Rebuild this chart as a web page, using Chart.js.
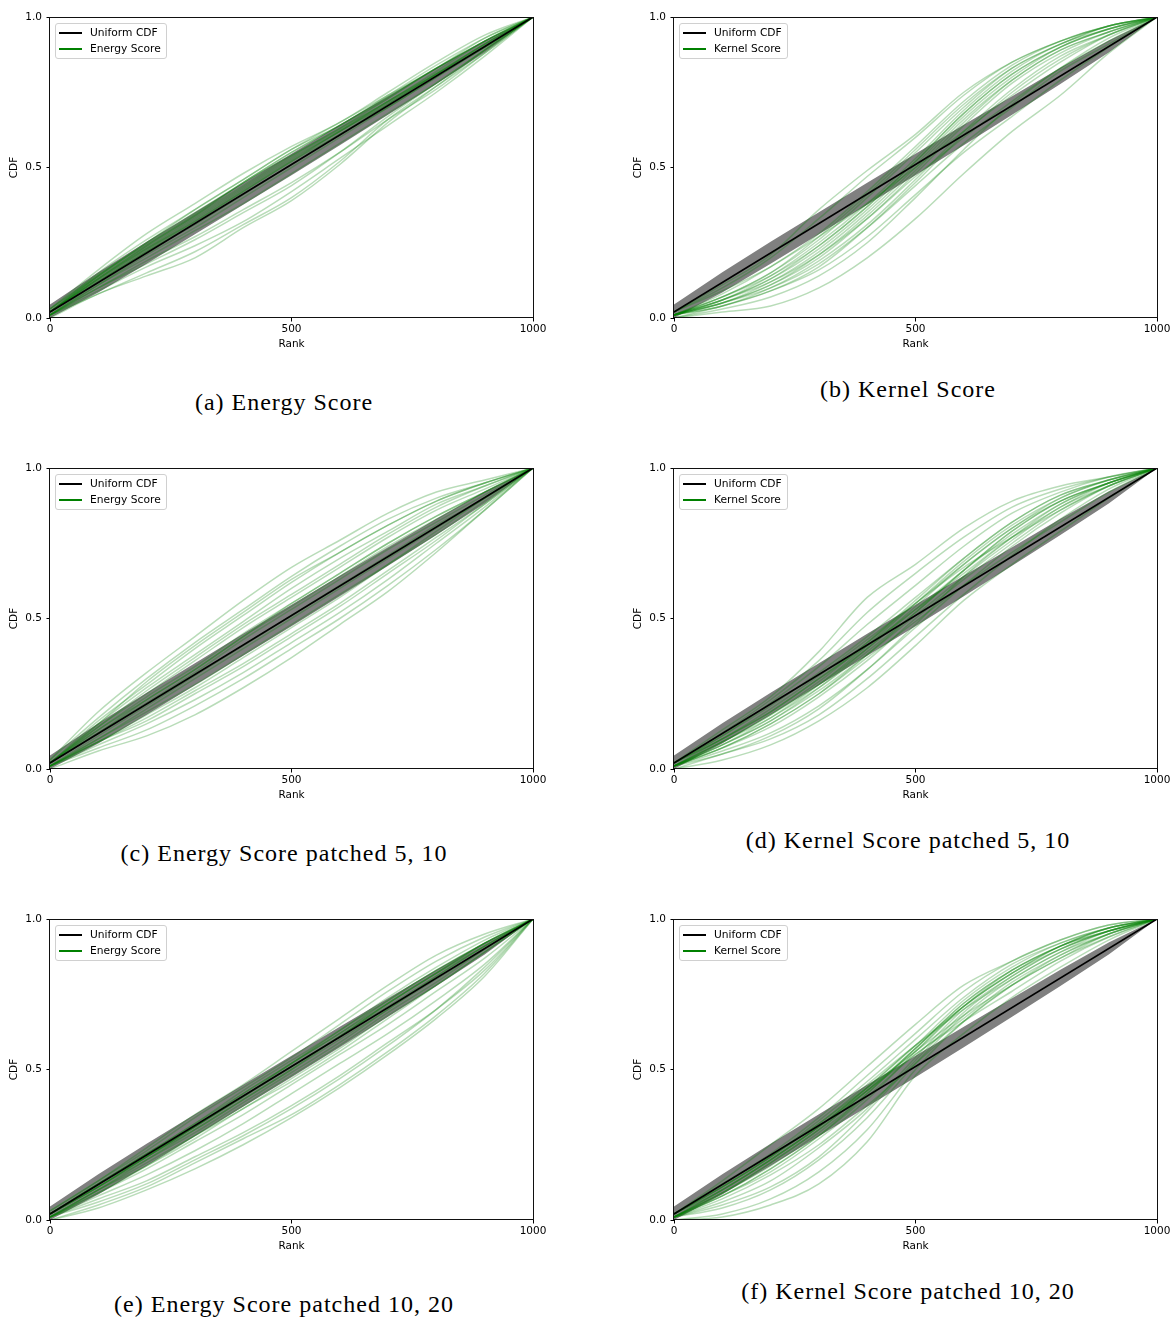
<!DOCTYPE html>
<html>
<head>
<meta charset="utf-8">
<script src="https://cdn.jsdelivr.net/npm/chart.js@4.4.0/dist/chart.umd.min.js"></script>
<style>
  html, body { margin: 0; padding: 0; background: #fff; }
  #page { position: relative; width: 1172px; height: 1317px; overflow: hidden; background: #fff; }
  canvas { position: absolute; }
  .legend { position: absolute; background: rgba(255,255,255,0.85); border: 1px solid #d0d0d0; border-radius: 3px;
            font-family: "DejaVu Sans", sans-serif; font-size: 10.7px; color: #000; padding: 1px 5px 1px 0; box-sizing: border-box; }
  .legend .row { position: relative; height: 16px; line-height: 16px; padding-left: 34px; white-space: nowrap; }
  .legend .row span.swatch { position: absolute; left: 3px; top: 7.5px; width: 23px; height: 1.6px; background: #000; }
  .caption { position: absolute; width: 600px; text-align: center; font-family: "Liberation Serif", "DejaVu Serif", serif;
             font-size: 24px; letter-spacing: 1px; line-height: 30px; color: #000; white-space: nowrap; }
</style>
</head>
<body>
<div id="page"></div>
<script>
// ---------------- DATA ----------------
const ranks = [0, 100, 200, 300, 400, 500, 600, 700, 800, 900, 1000];
const uniformRanks = [0, 1000];
const uniformCdf = [0.02, 1.0];
const bandLower = [0.000, 0.085, 0.180, 0.278, 0.376, 0.474, 0.574, 0.675, 0.777, 0.882, 1.0];
const bandUpper = [0.045, 0.152, 0.253, 0.351, 0.449, 0.546, 0.642, 0.737, 0.831, 0.922, 1.0];
const xTicks = [0, 500, 1000];
const yTicks = [0.0, 0.5, 1.0];

// (a) Energy Score
const energyScore = [
  [0.03,0.16,0.28,0.38,0.48,0.57,0.65,0.75,0.85,0.94,1],
  [0.02,0.15,0.26,0.36,0.46,0.56,0.64,0.74,0.84,0.93,1],
  [0.03,0.14,0.25,0.35,0.45,0.55,0.64,0.73,0.83,0.92,1],
  [0.02,0.14,0.24,0.34,0.44,0.54,0.63,0.72,0.82,0.92,1],
  [0.02,0.13,0.23,0.33,0.43,0.53,0.62,0.72,0.81,0.91,1],
  [0.02,0.13,0.23,0.32,0.42,0.52,0.62,0.71,0.81,0.91,1],
  [0.01,0.12,0.22,0.32,0.42,0.52,0.61,0.71,0.81,0.90,1],
  [0.02,0.12,0.22,0.31,0.41,0.51,0.61,0.70,0.80,0.90,1],
  [0.01,0.11,0.21,0.30,0.40,0.50,0.60,0.70,0.80,0.90,1],
  [0.01,0.11,0.20,0.29,0.38,0.48,0.58,0.68,0.78,0.89,1],
  [0.01,0.10,0.19,0.27,0.36,0.45,0.55,0.66,0.76,0.88,1],
  [0.01,0.09,0.17,0.24,0.32,0.42,0.53,0.64,0.75,0.87,1],
  [0.01,0.08,0.15,0.22,0.31,0.40,0.52,0.66,0.77,0.88,1],
  [0.00,0.08,0.14,0.20,0.30,0.39,0.51,0.65,0.77,0.89,1],
  [0.02,0.14,0.25,0.36,0.46,0.56,0.65,0.74,0.83,0.93,1],
  [0.02,0.13,0.24,0.34,0.45,0.54,0.63,0.73,0.83,0.92,1],
  [0.02,0.135,0.235,0.335,0.435,0.535,0.625,0.72,0.815,0.91,1],
  [0.03,0.145,0.245,0.345,0.45,0.55,0.64,0.735,0.83,0.92,1],
  [0.02,0.125,0.225,0.325,0.425,0.525,0.62,0.715,0.81,0.905,1],
  [0.01,0.10,0.18,0.26,0.35,0.44,0.55,0.67,0.78,0.89,1]
];
// (b) Kernel Score
const kernelScore = [
  [0.00,0.02,0.04,0.10,0.20,0.33,0.48,0.62,0.74,0.88,1],
  [0.00,0.03,0.07,0.14,0.25,0.40,0.56,0.71,0.83,0.93,1],
  [0.01,0.04,0.09,0.17,0.30,0.45,0.61,0.75,0.86,0.94,1],
  [0.01,0.05,0.11,0.20,0.33,0.48,0.64,0.78,0.88,0.95,1],
  [0.01,0.06,0.13,0.23,0.36,0.51,0.67,0.80,0.90,0.96,1],
  [0.01,0.07,0.15,0.26,0.40,0.55,0.70,0.83,0.91,0.97,1],
  [0.01,0.08,0.17,0.28,0.42,0.57,0.72,0.84,0.92,0.97,1],
  [0.02,0.10,0.20,0.33,0.47,0.60,0.74,0.85,0.92,0.97,1],
  [0.02,0.11,0.21,0.36,0.49,0.61,0.75,0.85,0.92,0.97,1],
  [0.01,0.06,0.12,0.21,0.33,0.47,0.60,0.72,0.83,0.92,1],
  [0.01,0.05,0.10,0.18,0.30,0.44,0.58,0.70,0.82,0.91,1],
  [0.00,0.04,0.09,0.16,0.27,0.41,0.55,0.67,0.79,0.90,1],
  [0.01,0.07,0.14,0.24,0.37,0.52,0.68,0.81,0.90,0.96,1],
  [0.01,0.05,0.12,0.22,0.35,0.50,0.66,0.79,0.89,0.95,1],
  [0.02,0.09,0.17,0.27,0.38,0.50,0.62,0.74,0.85,0.94,1],
  [0.01,0.06,0.14,0.25,0.38,0.53,0.69,0.82,0.91,0.96,1],
  [0.01,0.05,0.11,0.21,0.34,0.49,0.65,0.79,0.89,0.95,1],
  [0.01,0.06,0.13,0.24,0.37,0.52,0.68,0.81,0.90,0.96,1],
  [0.01,0.04,0.10,0.19,0.31,0.46,0.62,0.76,0.87,0.94,1],
  [0.01,0.07,0.15,0.27,0.41,0.56,0.71,0.83,0.91,0.97,1]
];
// (c) Energy Score patched 5, 10
const energyPatched5_10 = [
  [0.03,0.19,0.32,0.44,0.56,0.67,0.76,0.85,0.92,0.96,1],
  [0.03,0.17,0.30,0.42,0.53,0.64,0.74,0.83,0.90,0.95,1],
  [0.02,0.16,0.28,0.40,0.51,0.62,0.72,0.81,0.89,0.95,1],
  [0.02,0.15,0.27,0.38,0.49,0.60,0.70,0.79,0.88,0.94,1],
  [0.02,0.14,0.25,0.36,0.47,0.57,0.67,0.77,0.86,0.93,1],
  [0.02,0.13,0.24,0.34,0.45,0.55,0.65,0.75,0.84,0.92,1],
  [0.02,0.12,0.22,0.32,0.43,0.53,0.63,0.73,0.82,0.91,1],
  [0.01,0.11,0.21,0.31,0.41,0.51,0.61,0.71,0.81,0.90,1],
  [0.01,0.10,0.19,0.28,0.38,0.48,0.58,0.68,0.78,0.89,1],
  [0.01,0.09,0.17,0.26,0.35,0.45,0.55,0.66,0.77,0.88,1],
  [0.01,0.08,0.15,0.23,0.32,0.42,0.52,0.63,0.75,0.87,1],
  [0.01,0.07,0.13,0.21,0.30,0.40,0.50,0.61,0.73,0.86,1],
  [0.00,0.06,0.11,0.18,0.27,0.37,0.48,0.59,0.72,0.86,1],
  [0.02,0.15,0.29,0.41,0.52,0.63,0.72,0.81,0.89,0.95,1],
  [0.01,0.09,0.18,0.27,0.37,0.47,0.57,0.68,0.79,0.90,1],
  [0.02,0.13,0.23,0.33,0.44,0.54,0.64,0.74,0.83,0.92,1],
  [0.02,0.14,0.26,0.37,0.48,0.58,0.68,0.78,0.87,0.94,1],
  [0.01,0.10,0.20,0.30,0.40,0.50,0.60,0.70,0.80,0.90,1],
  [0.02,0.12,0.23,0.33,0.44,0.55,0.65,0.75,0.84,0.92,1],
  [0.01,0.09,0.16,0.25,0.34,0.44,0.54,0.65,0.76,0.88,1]
];
// (d) Kernel Score patched 5, 10
const kernelPatched5_10 = [
  [0.02,0.13,0.24,0.39,0.57,0.68,0.80,0.89,0.94,0.97,1],
  [0.02,0.12,0.23,0.36,0.52,0.65,0.77,0.87,0.93,0.97,1],
  [0.02,0.11,0.22,0.34,0.48,0.61,0.74,0.85,0.92,0.97,1],
  [0.02,0.11,0.21,0.32,0.44,0.57,0.70,0.82,0.91,0.96,1],
  [0.01,0.10,0.19,0.30,0.42,0.55,0.68,0.80,0.90,0.96,1],
  [0.01,0.09,0.18,0.28,0.40,0.53,0.66,0.78,0.88,0.95,1],
  [0.01,0.08,0.16,0.26,0.38,0.51,0.64,0.76,0.87,0.94,1],
  [0.01,0.07,0.14,0.24,0.36,0.50,0.63,0.75,0.86,0.94,1],
  [0.01,0.06,0.12,0.21,0.33,0.47,0.61,0.74,0.85,0.94,1],
  [0.00,0.05,0.10,0.18,0.30,0.44,0.58,0.71,0.83,0.93,1],
  [0.00,0.03,0.08,0.16,0.27,0.41,0.56,0.68,0.79,0.90,1],
  [0.01,0.07,0.15,0.25,0.37,0.49,0.61,0.72,0.82,0.92,1],
  [0.01,0.09,0.17,0.27,0.39,0.52,0.66,0.79,0.89,0.95,1],
  [0.01,0.05,0.11,0.20,0.33,0.48,0.64,0.77,0.88,0.95,1],
  [0.02,0.10,0.20,0.31,0.43,0.55,0.67,0.77,0.86,0.94,1],
  [0.01,0.08,0.16,0.27,0.40,0.54,0.68,0.80,0.89,0.95,1],
  [0.01,0.08,0.17,0.28,0.41,0.55,0.69,0.81,0.90,0.96,1],
  [0.01,0.09,0.18,0.29,0.42,0.56,0.70,0.82,0.91,0.96,1],
  [0.01,0.07,0.15,0.25,0.38,0.52,0.66,0.79,0.89,0.95,1],
  [0.02,0.10,0.19,0.30,0.41,0.53,0.65,0.77,0.87,0.95,1]
];
// (e) Energy Score patched 10, 20
const energyPatched10_20 = [
  [0.03,0.13,0.24,0.35,0.45,0.56,0.67,0.78,0.88,0.95,1],
  [0.03,0.13,0.23,0.34,0.44,0.54,0.65,0.76,0.86,0.94,1],
  [0.02,0.12,0.22,0.32,0.43,0.53,0.63,0.74,0.84,0.93,1],
  [0.02,0.12,0.22,0.31,0.42,0.52,0.62,0.72,0.82,0.92,1],
  [0.02,0.11,0.21,0.30,0.40,0.50,0.61,0.71,0.81,0.91,1],
  [0.02,0.11,0.20,0.29,0.39,0.49,0.59,0.70,0.80,0.90,1],
  [0.01,0.10,0.19,0.28,0.37,0.47,0.57,0.68,0.78,0.89,1],
  [0.01,0.09,0.17,0.26,0.35,0.45,0.55,0.65,0.76,0.87,1],
  [0.01,0.08,0.15,0.23,0.32,0.42,0.52,0.62,0.73,0.85,1],
  [0.01,0.07,0.13,0.21,0.29,0.38,0.48,0.59,0.70,0.83,1],
  [0.00,0.05,0.11,0.19,0.27,0.35,0.45,0.56,0.68,0.82,1],
  [0.00,0.04,0.10,0.17,0.25,0.34,0.44,0.55,0.67,0.81,1],
  [0.01,0.06,0.12,0.20,0.28,0.37,0.47,0.58,0.70,0.84,1],
  [0.02,0.12,0.21,0.31,0.41,0.51,0.61,0.72,0.82,0.92,1],
  [0.01,0.10,0.18,0.27,0.37,0.46,0.56,0.67,0.78,0.89,1],
  [0.02,0.11,0.21,0.31,0.41,0.52,0.62,0.73,0.83,0.92,1],
  [0.02,0.12,0.22,0.32,0.42,0.52,0.63,0.73,0.83,0.92,1],
  [0.02,0.11,0.21,0.31,0.41,0.51,0.61,0.72,0.82,0.91,1],
  [0.01,0.10,0.20,0.30,0.40,0.50,0.60,0.70,0.81,0.91,1],
  [0.01,0.09,0.18,0.28,0.38,0.48,0.58,0.69,0.79,0.90,1]
];
// (f) Kernel Score patched 10, 20
const kernelPatched10_20 = [
  [0.00,0.01,0.05,0.12,0.26,0.48,0.62,0.74,0.84,0.93,1],
  [0.00,0.02,0.07,0.16,0.30,0.50,0.66,0.78,0.87,0.95,1],
  [0.01,0.04,0.10,0.20,0.34,0.52,0.68,0.80,0.89,0.96,1],
  [0.01,0.06,0.13,0.24,0.37,0.54,0.70,0.81,0.90,0.96,1],
  [0.01,0.08,0.16,0.27,0.40,0.56,0.71,0.82,0.91,0.97,1],
  [0.01,0.09,0.18,0.29,0.42,0.57,0.72,0.83,0.91,0.97,1],
  [0.02,0.10,0.20,0.31,0.44,0.58,0.73,0.84,0.92,0.97,1],
  [0.02,0.12,0.22,0.34,0.48,0.62,0.76,0.86,0.93,0.98,1],
  [0.02,0.13,0.25,0.37,0.51,0.65,0.78,0.86,0.93,0.98,1],
  [0.01,0.07,0.15,0.25,0.38,0.52,0.66,0.78,0.88,0.95,1],
  [0.01,0.09,0.19,0.30,0.43,0.56,0.68,0.78,0.87,0.94,1],
  [0.02,0.11,0.21,0.32,0.45,0.58,0.70,0.80,0.89,0.95,1],
  [0.01,0.05,0.11,0.21,0.36,0.53,0.69,0.81,0.90,0.96,1],
  [0.01,0.08,0.17,0.28,0.41,0.55,0.66,0.76,0.86,0.94,1],
  [0.01,0.10,0.20,0.31,0.43,0.55,0.67,0.79,0.88,0.95,1],
  [0.02,0.11,0.21,0.32,0.44,0.56,0.71,0.83,0.91,0.96,1],
  [0.01,0.09,0.19,0.30,0.43,0.57,0.72,0.83,0.91,0.97,1],
  [0.02,0.11,0.21,0.33,0.46,0.60,0.74,0.85,0.92,0.97,1],
  [0.01,0.10,0.20,0.31,0.44,0.58,0.71,0.82,0.91,0.96,1],
  [0.01,0.08,0.17,0.28,0.42,0.57,0.71,0.82,0.90,0.96,1]
];

const panelCurves = [energyScore, kernelScore, energyPatched5_10, kernelPatched5_10, energyPatched10_20, kernelPatched10_20];
const scoreLabels = ["Energy Score", "Kernel Score", "Energy Score", "Kernel Score", "Energy Score", "Kernel Score"];
const uniformLabel = "Uniform CDF";
const captions = ["(a) Energy Score", "(b) Kernel Score", "(c) Energy Score patched 5, 10",
                  "(d) Kernel Score patched 5, 10", "(e) Energy Score patched 10, 20", "(f) Kernel Score patched 10, 20"];
const xTitle = "Rank";
const yTitle = "CDF";

// ---------------- LAYOUT ----------------
const page = document.getElementById('page');
const colLeft = [0, 624];
const colWidth = [560, 548];
const colPadRight = [27, 15];
const rowTop = [0, 451, 902];
const captionY = [[402, 389], [853, 840], [1304, 1291]];
const captionX = [284, 908];
const FONT = '"DejaVu Sans", sans-serif';

const framePlugin = {
  id: 'frame',
  afterDraw(chart) {
    const {ctx, chartArea: {left, top, right, bottom}} = chart;
    ctx.save();
    ctx.strokeStyle = '#111';
    ctx.lineWidth = 1;
    ctx.strokeRect(Math.round(left) - 0.5, Math.round(top) + 0.5, Math.round(right - left) + 1, Math.round(bottom - top) - 1);
    ctx.restore();
  }
};

function toPts(xs, ys) { return xs.map((x, i) => ({x: x, y: ys[i]})); }

panelCurves.forEach((curves, p) => {
  const row = Math.floor(p / 2), col = p % 2;
  const cv = document.createElement('canvas');
  cv.width = colWidth[col]; cv.height = 360;
  cv.style.left = colLeft[col] + 'px'; cv.style.top = rowTop[row] + 'px';
  cv.style.width = colWidth[col] + 'px'; cv.style.height = '360px';
  page.appendChild(cv);

  const datasets = [];
  datasets.push({ label: uniformLabel, data: toPts(uniformRanks, uniformCdf), borderColor: '#000', borderWidth: 1.6,
                  pointRadius: 0, fill: false, tension: 0 });
  curves.forEach(c => datasets.push({ label: scoreLabels[p], data: toPts(ranks, c), borderColor: 'rgba(0,128,0,0.28)',
                  borderWidth: 1.5, pointRadius: 0, fill: false, cubicInterpolationMode: 'monotone' }));
  datasets.push({ label: 'band-lower', data: toPts(ranks, bandLower), borderWidth: 0, borderColor: 'rgba(0,0,0,0)',
                  pointRadius: 0, fill: false, tension: 0 });
  datasets.push({ label: 'band-upper', data: toPts(ranks, bandUpper), borderWidth: 0, borderColor: 'rgba(0,0,0,0)',
                  backgroundColor: 'rgb(128,128,128)', pointRadius: 0, fill: '-1', tension: 0 });

  new Chart(cv, {
    type: 'line',
    data: { datasets },
    options: {
      responsive: false, animation: false, events: [],
      layout: { padding: { top: 17, right: colPadRight[col], left: 0, bottom: 0 } },
      plugins: { legend: { display: false }, tooltip: { enabled: false }, filler: { propagate: false } },
      scales: {
        x: {
          type: 'linear', min: 0, max: 1000,
          afterFit: s => { s.height = 42; },
          afterBuildTicks: s => { s.ticks = xTicks.map(v => ({value: v})); },
          ticks: { color: '#000', font: { family: FONT, size: 10.5 }, padding: 1.5, maxRotation: 0, autoSkip: false,
                   callback: v => String(v) },
          grid: { display: true, drawOnChartArea: false, drawTicks: true, tickLength: 3.5, tickColor: '#000', tickWidth: 1 },
          border: { display: false },
          title: { display: true, text: xTitle, color: '#000', font: { family: FONT, size: 10.5 }, padding: { top: 0, bottom: 9.7 } }
        },
        y: {
          type: 'linear', min: 0, max: 1,
          afterFit: s => { s.width = 50; },
          afterBuildTicks: s => { s.ticks = yTicks.map(v => ({value: v})); },
          ticks: { color: '#000', font: { family: FONT, size: 10.5 }, padding: 4.5, autoSkip: false,
                   callback: v => Number(v).toFixed(1) },
          grid: { display: true, drawOnChartArea: false, drawTicks: true, tickLength: 3.5, tickColor: '#000', tickWidth: 1 },
          border: { display: false },
          title: { display: true, text: yTitle, color: '#000', font: { family: FONT, size: 10.5 }, padding: { top: 7.7, bottom: 0 } }
        }
      }
    },
    plugins: [framePlugin]
  });

  // legend (HTML overlay inside the axes, upper-left)
  const plotLeft = colLeft[col] + 50;
  const plotTop = rowTop[row] + 17;
  const lg = document.createElement('div');
  lg.className = 'legend';
  lg.style.left = (plotLeft + 5) + 'px';
  lg.style.top = (plotTop + 5.5) + 'px';
  [[uniformLabel, '#000'], [scoreLabels[p], '#008000']].forEach(([t, c]) => {
    const r = document.createElement('div'); r.className = 'row';
    const sw = document.createElement('span'); sw.className = 'swatch'; sw.style.background = c;
    r.appendChild(sw); r.appendChild(document.createTextNode(t)); lg.appendChild(r);
  });
  page.appendChild(lg);

  const cap = document.createElement('div');
  cap.className = 'caption';
  cap.textContent = captions[p];
  cap.style.left = (captionX[col] - 300) + 'px';
  cap.style.top = (captionY[row][col] - 15) + 'px';
  page.appendChild(cap);
});
</script>
</body>
</html>
